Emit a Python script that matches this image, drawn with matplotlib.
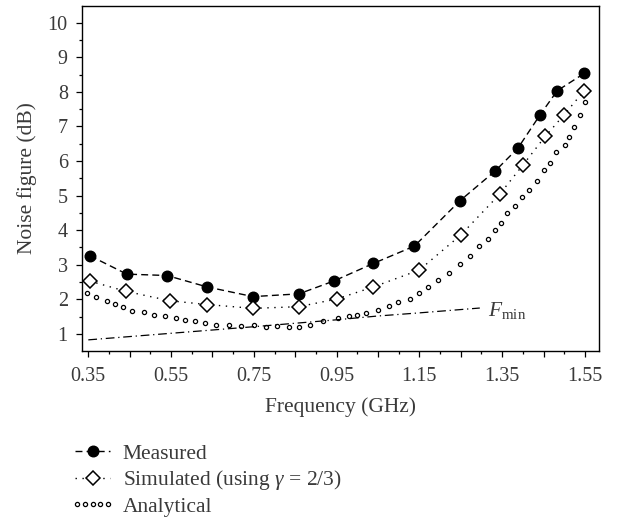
import numpy as np
import matplotlib
matplotlib.use("Agg")
import matplotlib.pyplot as plt
from matplotlib.legend_handler import HandlerLine2D

plt.rcParams['font.family'] = ['Liberation Serif', 'DejaVu Serif']
plt.rcParams['mathtext.fontset'] = 'custom'
plt.rcParams['mathtext.rm'] = 'Liberation Serif'
plt.rcParams['mathtext.it'] = 'Liberation Serif:italic'

TXT = '#3a3a3a'

# measured noise figure
freq_meas = [0.354, 0.443, 0.540, 0.637, 0.748, 0.859, 0.943, 1.039, 1.138, 1.248, 1.333, 1.388, 1.442, 1.483, 1.548]
nf_meas = [3.26, 2.73, 2.69, 2.36, 2.08, 2.16, 2.53, 3.04, 3.54, 4.85, 5.71, 6.37, 7.34, 8.03, 8.53]

# simulated (gamma = 2/3)
freq_sim = [0.353, 0.442, 0.547, 0.638, 0.749, 0.859, 0.950, 1.039, 1.150, 1.250, 1.344, 1.400, 1.454, 1.500, 1.548]
nf_sim = [2.53, 2.23, 1.96, 1.85, 1.74, 1.79, 2.01, 2.36, 2.85, 3.86, 5.04, 5.88, 6.71, 7.34, 8.03]

# analytical
freq_an = [0.347, 0.369, 0.394, 0.415, 0.435, 0.456, 0.484, 0.509, 0.536, 0.561, 0.584, 0.608,
           0.632, 0.658, 0.691, 0.718, 0.751, 0.779, 0.807, 0.835, 0.860, 0.885, 0.916, 0.953,
           0.979, 1.000, 1.020, 1.049, 1.076, 1.098, 1.127, 1.150, 1.172, 1.196, 1.222, 1.247,
           1.273, 1.294, 1.315, 1.332, 1.348, 1.361, 1.380, 1.399, 1.414, 1.435, 1.450, 1.466,
           1.481, 1.501, 1.511, 1.523, 1.539, 1.550]
nf_an = [2.17, 2.08, 1.95, 1.88, 1.78, 1.67, 1.64, 1.55, 1.51, 1.46, 1.41, 1.38,
         1.32, 1.27, 1.27, 1.23, 1.27, 1.19, 1.22, 1.19, 1.19, 1.27, 1.38, 1.46,
         1.53, 1.55, 1.62, 1.69, 1.80, 1.93, 2.00, 2.17, 2.36, 2.55, 2.75, 3.01,
         3.26, 3.53, 3.75, 4.01, 4.21, 4.51, 4.71, 4.96, 5.16, 5.43, 5.75, 5.95,
         6.27, 6.47, 6.70, 6.99, 7.34, 7.71]

# minimum noise figure
freq_fmin = [0.35, 0.55, 0.75, 0.95, 1.05, 1.15, 1.296]
nf_fmin = [0.83, 1.02, 1.21, 1.41, 1.52, 1.61, 1.75]

fig = plt.figure(figsize=(6.17, 5.18), dpi=100)
ax = fig.add_axes([0.1324, 0.323, 0.8384, 0.6654])

l_meas, = ax.plot(freq_meas, nf_meas, color='black', lw=1.0, dashes=(5, 3),
                  marker='o', ms=7.6, mfc='black', mec='black')
l_sim, = ax.plot(freq_sim, nf_sim, color='black', lw=1.0, dashes=(1, 4),
                 marker='D', ms=7, mfc='white', mec='black', mew=1.1)
l_an, = ax.plot(freq_an, nf_an, ls='none', marker='o', ms=3.0, mfc='white',
                mec='black', mew=0.9)
ax.plot(freq_fmin, nf_fmin, color='black', lw=0.9, dashes=(7, 3, 1, 3))
ax.text(1.315, 1.68, r'$F_{\mathrm{min}}$', fontsize=15.5, color=TXT, va='center', ha='left')

ax.set_xlim(0.334, 1.584)
ax.set_ylim(0.517, 10.48)

xmaj = np.arange(0.35, 1.551, 0.1)
ax.set_xticks(xmaj)
ax.set_xticklabels(['%.2f' % v if i % 2 == 0 else '' for i, v in enumerate(xmaj)])
ax.set_xticks(np.arange(0.40, 1.55, 0.1), minor=True)
ax.set_yticks(range(1, 11))
ax.set_yticks(np.arange(1.5, 10.5, 1.0), minor=True)

ax.tick_params(which='major', direction='out', length=4.0, width=0.9, labelsize=14.5,
               labelcolor=TXT)
ax.tick_params(which='minor', direction='out', length=2.4, width=0.9)
ax.tick_params(axis='x', which='major', pad=7.5)
ax.tick_params(axis='y', which='major', pad=6)
for s in ax.spines.values():
    s.set_linewidth(1.0)

ax.set_xlabel('Frequency (GHz)', fontsize=15.5, color=TXT, labelpad=8)
ax.set_ylabel('Noise figure (dB)', fontsize=15.5, color=TXT, labelpad=8)

fig.legend([l_meas, l_sim, l_an],
           ['Measured', r'Simulated (using $\gamma$ = 2/3)', 'Analytical'],
           handler_map={l_an: HandlerLine2D(numpoints=5, marker_pad=0.1)},
           loc='upper left', bbox_to_anchor=(0.1216, 0.143),
           frameon=False, fontsize=15.5, labelcolor=TXT, handlelength=1.63,
           handletextpad=0.59, labelspacing=0.2, borderpad=0, borderaxespad=0)

fig.savefig('out.png', dpi=100)
